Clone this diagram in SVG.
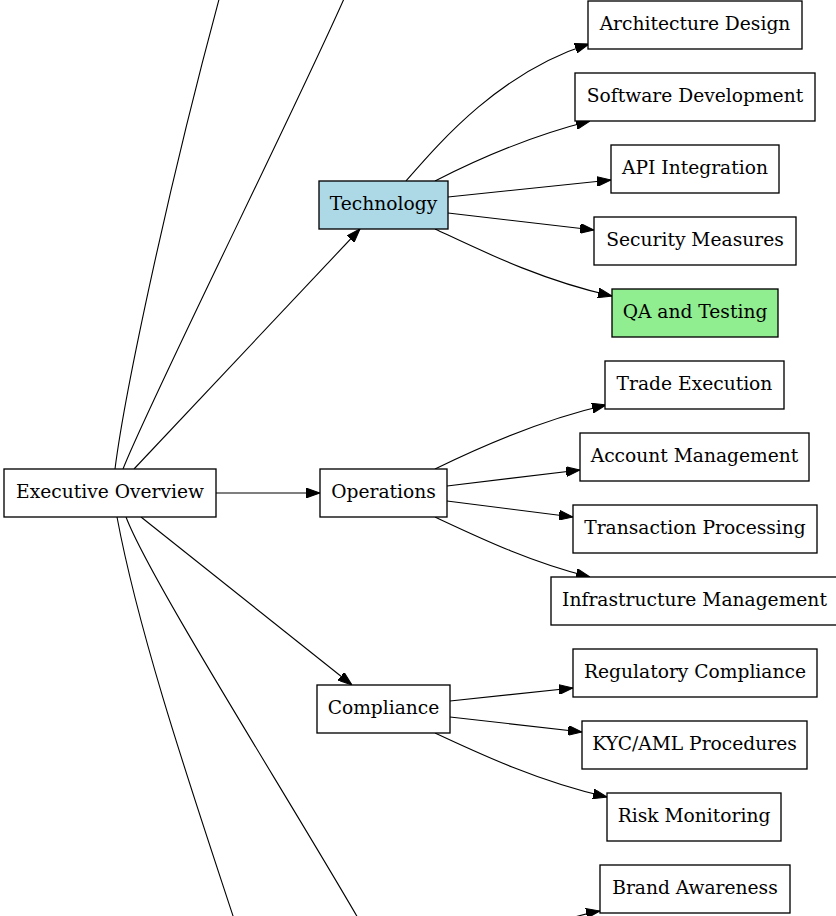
<svg xmlns="http://www.w3.org/2000/svg" width="836" height="916" viewBox="0 0 836 916">
<style>
.n rect{fill:#fff;stroke:#000;stroke-width:1.33}
.n text{font-family:"DejaVu Serif","Liberation Serif",serif;font-size:18.67px;text-anchor:middle;fill:#000}
.e path{fill:none;stroke:#000;stroke-width:1.1}
.e path.a{marker-end:url(#ah)}
</style>
<defs>
<marker id="ah" markerUnits="userSpaceOnUse" markerWidth="14" markerHeight="10" refX="13.3" refY="4.67" orient="auto" viewBox="0 0 13.3 9.33">
<path d="M0,0 L13.3,4.67 L0,9.33 Z" fill="#000" stroke="#000" stroke-width="1"/>
</marker>
</defs>
<rect width="836" height="916" fill="#fff"/>
<g id="connectors" class="e">
<path d="M115,469 C125,390 170,180 221,-8"/>
<path d="M123,469 C150,400 300,100 347,-8"/>
<path class="a" d="M134,469 L360,229"/>
<path d="M117,517 C140,640 195,800 236,925"/>
<path d="M126,517 C150,580 290,800 362,925"/>
<path class="a" d="M141,517 L352,685"/>
<path class="a" d="M216,493 L320,493"/>
<path class="a" d="M406,181 C440,142 500,72 589,44"/>
<path class="a" d="M435,181 C480,158 530,136 590,121"/>
<path class="a" d="M448,197 L611,180"/>
<path class="a" d="M448,213 L594,230"/>
<path class="a" d="M435,229 C480,250 540,280 612,296"/>
<path class="a" d="M435,469 C480,447 540,420 606,405"/>
<path class="a" d="M447,486 L580,470"/>
<path class="a" d="M447,501 L573,517"/>
<path class="a" d="M435,517 C480,538 530,562 590,577"/>
<path class="a" d="M450,701 L573,688"/>
<path class="a" d="M450,717 L582,732"/>
<path class="a" d="M435,733 C480,754 540,782 607,797"/>
<path class="a" d="M560,921 C575,917 588,913 600,911"/>
</g>
<g id="node-exec" class="n"><rect x="4" y="469" width="212" height="48"/><text x="110" y="498">Executive Overview</text></g>
<g id="node-tech" class="n"><rect x="319" y="181" width="129" height="48" style="fill:#add8e6"/><text x="383.5" y="210">Technology</text></g>
<g id="node-ops" class="n"><rect x="320" y="469" width="127" height="48"/><text x="383.5" y="498">Operations</text></g>
<g id="node-comp" class="n"><rect x="317" y="685" width="133" height="48"/><text x="383.5" y="714">Compliance</text></g>
<g id="node-arch" class="n"><rect x="588" y="1" width="214" height="48"/><text x="695" y="30">Architecture Design</text></g>
<g id="node-softdev" class="n"><rect x="575" y="73" width="240" height="48"/><text x="695" y="102">Software Development</text></g>
<g id="node-api" class="n"><rect x="611" y="145" width="168" height="48"/><text x="695" y="174">API Integration</text></g>
<g id="node-security" class="n"><rect x="594" y="217" width="202" height="48"/><text x="695" y="246">Security Measures</text></g>
<g id="node-qa" class="n"><rect x="612" y="289" width="166" height="48" style="fill:#90ee90"/><text x="695" y="318">QA and Testing</text></g>
<g id="node-trade" class="n"><rect x="605" y="361" width="179" height="48"/><text x="694.5" y="390">Trade Execution</text></g>
<g id="node-account" class="n"><rect x="580" y="433" width="229" height="48"/><text x="694.5" y="462">Account Management</text></g>
<g id="node-transaction" class="n"><rect x="573" y="505" width="244" height="48"/><text x="695" y="534">Transaction Processing</text></g>
<g id="node-infra" class="n"><rect x="551" y="577" width="287" height="48"/><text x="694.5" y="606">Infrastructure Management</text></g>
<g id="node-regulatory" class="n"><rect x="573" y="649" width="244" height="48"/><text x="695" y="678">Regulatory Compliance</text></g>
<g id="node-kyc" class="n"><rect x="582" y="721" width="225" height="48"/><text x="694.5" y="750">KYC/AML Procedures</text></g>
<g id="node-risk" class="n"><rect x="607" y="793" width="174" height="48"/><text x="694" y="822">Risk Monitoring</text></g>
<g id="node-brand" class="n"><rect x="600" y="865" width="190" height="48"/><text x="695" y="894">Brand Awareness</text></g>
</svg>
